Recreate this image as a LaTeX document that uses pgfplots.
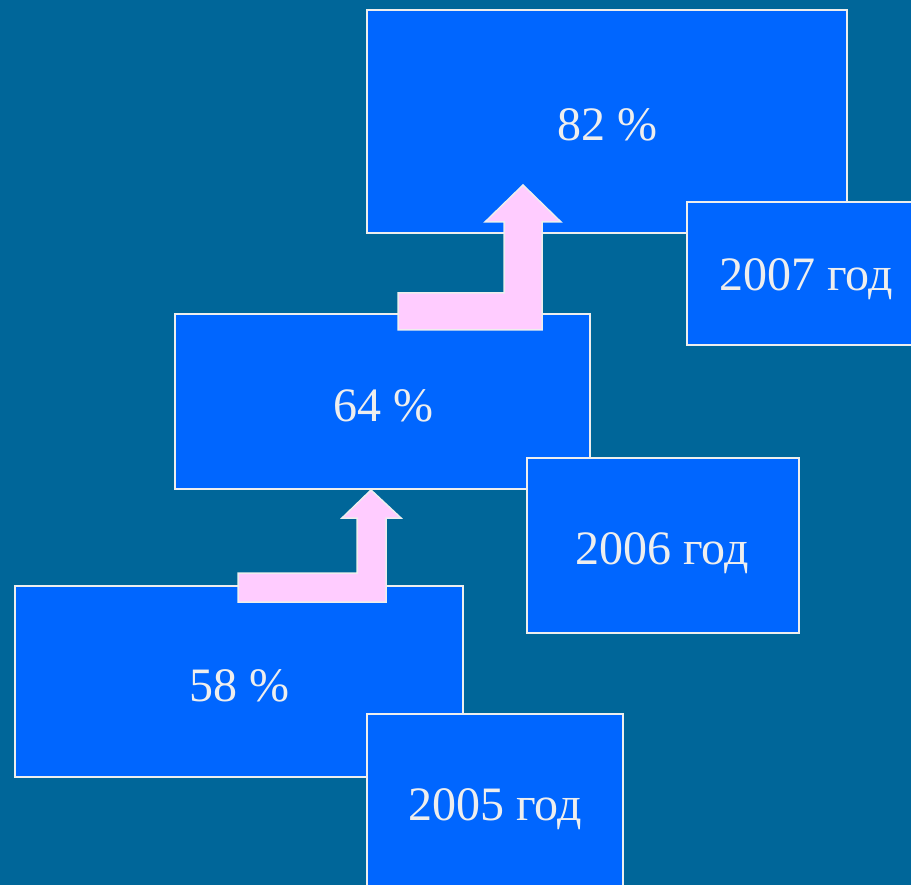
\documentclass[border=0pt]{standalone}
\usepackage{pgfplots}
\pgfplotsset{compat=1.18}
\usepackage{fontspec}
\setmainfont{Liberation Serif}
\definecolor{bg}{HTML}{006699}
\definecolor{boxc}{HTML}{0066FF}
\definecolor{edge}{HTML}{EEEEEE}
\definecolor{arr}{HTML}{FFCCFF}
\tikzset{lbl/.style={font=\fontsize{48}{56}\selectfont,text=edge,anchor=base,inner sep=0pt}}
\begin{document}
\begin{tikzpicture}
\begin{axis}[width=911pt,height=885pt,scale only axis,
  xmin=0,xmax=911,ymin=0,ymax=885,y dir=reverse,
  axis lines=none,clip=true,
  bx/.style={fill=boxc,draw=edge,line width=2pt,mark=none},
  ar/.style={fill=arr,draw=edge,line width=1.5pt,mark=none}]
\addplot[fill=bg,draw=none,mark=none] coordinates {(0,0)(911,0)(911,885)(0,885)} -- cycle;
% 2005: 58 %
\addplot[bx] coordinates {(15,586)(463,586)(463,777)(15,777)} -- cycle;
\addplot[bx] coordinates {(367,714)(623,714)(623,890)(367,890)} -- cycle;
% 2006: 64 %
\addplot[bx] coordinates {(175,314)(590,314)(590,489)(175,489)} -- cycle;
\addplot[bx] coordinates {(527,458)(799,458)(799,633)(527,633)} -- cycle;
\addplot[ar] coordinates {(238,573)(357,573)(357,518)(342,518)(371,490)(401,518)(386,518)(386,602)(238,602)} -- cycle;
% 2007: 82 %
\addplot[bx] coordinates {(367,10)(847,10)(847,233)(367,233)} -- cycle;
\addplot[bx] coordinates {(687,202)(920,202)(920,345)(687,345)} -- cycle;
\addplot[ar] coordinates {(398,293)(504,293)(504,222)(485,222)(523,185)(561,222)(542,222)(542,330)(398,330)} -- cycle;
\node[lbl] at (axis cs:607,141) {82 \%};
\node[lbl] at (axis cs:806,291) {2007 год};
\node[lbl] at (axis cs:383,421) {64 \%};
\node[lbl] at (axis cs:662,564) {2006 год};
\node[lbl] at (axis cs:239,701) {58 \%};
\node[lbl] at (axis cs:495,820) {2005 год};
\end{axis}
\end{tikzpicture}
\end{document}
